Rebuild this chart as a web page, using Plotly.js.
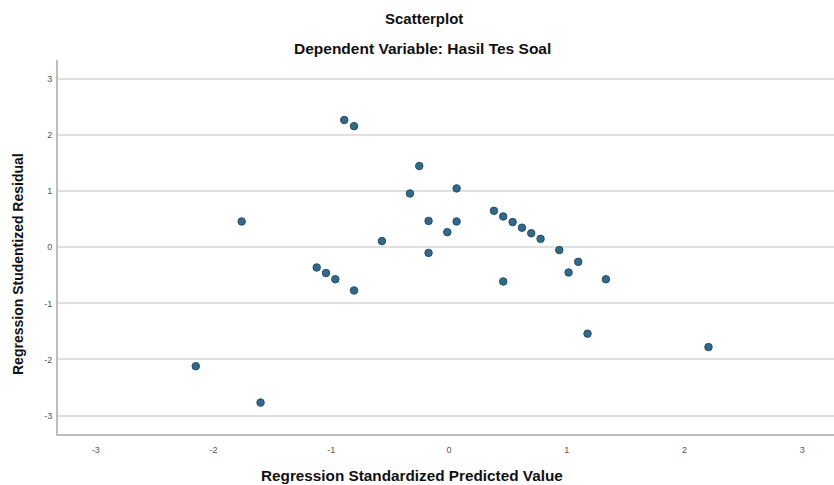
<!DOCTYPE html>
<html>
<head>
<meta charset="utf-8">
<script src="https://cdn.plot.ly/plotly-3.0.1.min.js"></script>
<style>html,body{margin:0;padding:0;background:#fff;}#chart{width:834px;height:485px;}</style>
</head>
<body>
<div id="chart"></div>
<script>
// Regression Standardized Predicted Value (x) and Studentized Residual (y)
const predictedValue = [-1.76, -2.15, -1.60, -0.889, -0.806, -0.252, -0.331, 0.065, -0.173, 0.065,
  -0.014, -0.569, -0.173, 0.382, 0.461, 0.541, 0.620, 0.699, 0.778, 0.937,
  1.098, -1.123, -1.044, -0.965, -0.806, 0.461, 1.016, 1.333, 1.177, 2.204];
const studentizedResidual = [0.46, -2.12, -2.77, 2.27, 2.16, 1.45, 0.96, 1.05, 0.47, 0.46,
  0.27, 0.11, -0.10, 0.65, 0.55, 0.45, 0.35, 0.25, 0.15, -0.05,
  -0.26, -0.36, -0.46, -0.57, -0.77, -0.61, -0.45, -0.57, -1.54, -1.78];
const tickValues = [-3, -2, -1, 0, 1, 2, 3];
const tickLabels = ["-3", "-2", "-1", "0", "1", "2", "3"];

const FONT = '"Liberation Sans", Arial, sans-serif';

const trace = {
  type: 'scatter', mode: 'markers',
  x: predictedValue, y: studentizedResidual,
  marker: {size: 7.5, color: '#336886', line: {color: '#22506c', width: 1}},
  hoverinfo: 'x+y'
};

const axisCommon = {
  showgrid: true, gridcolor: '#e0e0e0', gridwidth: 2,
  zeroline: false, showline: true, linecolor: '#bdbdbd', linewidth: 2,
  ticks: '', tickmode: 'array', tickvals: tickValues, ticktext: tickLabels,
  tickfont: {family: FONT, size: 9, color: '#555'}, fixedrange: true
};

const layout = {
  width: 834, height: 485,
  margin: {l: 58, r: 0, t: 60, b: 51},
  paper_bgcolor: '#fff', plot_bgcolor: '#fff',
  showlegend: false,
  xaxis: Object.assign({}, axisCommon, {range: [-3.32, 3.27], showgrid: false, ticklabelstandoff: 6}),
  yaxis: Object.assign({}, axisCommon, {range: [-3.33, 3.34], ticklabelstandoff: 2}),
  annotations: [
    {text: '<b>Scatterplot</b>', xref: 'paper', yref: 'paper', x: (424 - 58) / 776, y: (434 - 18) / 374,
     showarrow: false, xanchor: 'center', yanchor: 'middle', font: {family: FONT, size: 15, color: '#111'}},
    {text: '<b>Dependent Variable: Hasil Tes Soal</b>', xref: 'paper', yref: 'paper', x: (422 - 58) / 776, y: (434 - 48) / 374,
     showarrow: false, xanchor: 'center', yanchor: 'middle', font: {family: FONT, size: 15.5, color: '#111'}},
    {text: '<b>Regression Standardized Predicted Value</b>', xref: 'paper', yref: 'paper', x: (412 - 58) / 776, y: (434 - 475) / 374,
     showarrow: false, xanchor: 'center', yanchor: 'middle', font: {family: FONT, size: 15.3, color: '#111'}},
    {text: '<b>Regression Studentized Residual</b>', xref: 'paper', yref: 'paper', x: (18 - 58) / 776, y: (434 - 264) / 374,
     textangle: -90, showarrow: false, xanchor: 'center', yanchor: 'middle', font: {family: FONT, size: 14, color: '#111'}}
  ]
};

Plotly.newPlot('chart', [trace], layout, {displayModeBar: false, staticPlot: true});
</script>
</body>
</html>
